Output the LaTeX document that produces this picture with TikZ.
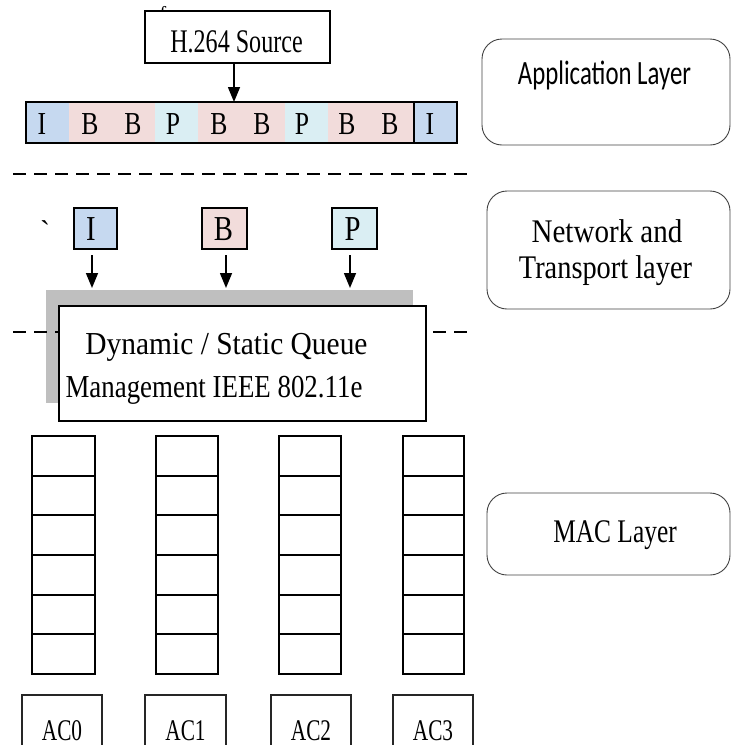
\documentclass[tikz,border=0pt]{standalone}
\usepackage{fontspec}
\usepackage{graphicx}
\setmainfont{Liberation Serif}
\newfontfamily\calibrifont{Carlito}
\usetikzlibrary{arrows.meta}

\definecolor{iblue}{HTML}{C6D9F0}
\definecolor{bpink}{HTML}{F2DCDB}
\definecolor{pcyan}{HTML}{DAEEF3}
\definecolor{shadowgray}{HTML}{BFBFBF}
\definecolor{layeredge}{HTML}{404040}

% narrow text: horizontal squeeze factor, then the text
\newcommand\squeeze[2]{\scalebox{#1}[1]{#2}}
\newcommand\fs[1]{\fontsize{#1}{#1}\selectfont}

\begin{document}
\begin{tikzpicture}[x=1pt,y=-1pt,
  box/.style={draw=black,line width=1.8pt,fill=white,inner sep=0pt,outer sep=0pt},
  seg/.style={inner sep=0pt,outer sep=0pt,minimum height=41pt},
  qcell/.style={draw=black,line width=1.8pt,inner sep=0pt,outer sep=0pt},
  acbox/.style={draw=black!85,line width=1.2pt,inner sep=0pt,outer sep=0pt,minimum height=65pt},
  layer/.style={draw=layeredge,line width=0.9pt,rounded corners=20pt,inner sep=0pt,outer sep=0pt},
  txt/.style={anchor=base,inner sep=0pt,outer sep=0pt},
  arr/.style={line width=1.5pt,-{Triangle[width=12pt,length=15pt]}},
  sepline/.style={line width=1.8pt,dash pattern=on 13pt off 8pt},
]
\useasboundingbox (0,0) rectangle (731,745);
\clip (0,0) rectangle (731,745);

% ---------- application layer ----------
\node[txt] (fmark) at (163,20) {\fs{20}f};
\node[box,line width=1.5pt,minimum width=185pt,minimum height=52pt] (src) at (237.5,37) {};
\node[txt] (srctxt) at (236.5,52) {\fs{33}\squeeze{0.73}{H.264 Source}};

% frame sequence strip
\node[seg,fill=iblue,minimum width=43pt] (s1) at (47.5,122.5) {};
\node[seg,fill=bpink,minimum width=86pt] (s2) at (112,122.5) {};
\node[seg,fill=pcyan,minimum width=43pt] (s3) at (176.5,122.5) {};
\node[seg,fill=bpink,minimum width=87pt] (s4) at (241.5,122.5) {};
\node[seg,fill=pcyan,minimum width=43pt] (s5) at (306.5,122.5) {};
\node[seg,fill=bpink,minimum width=86pt] (s6) at (371,122.5) {};
\node[seg,fill=iblue,minimum width=43pt] (s7) at (435.5,122.5) {};
\node[draw=black,line width=2pt,inner sep=0pt,outer sep=0pt,minimum width=431pt,minimum height=41pt] (strip) at (241.5,122.5) {};
\draw[line width=2pt] (s7.north west) -- (s7.south west);
\foreach \lx/\lt [count=\k] in {42/I,90/B,133/B,173/P,219/B,262/B,302/P,347/B,390/B,430/I}
  \node[txt] (ft\k) at (\lx,134) {\fs{32}\squeeze{0.8}{\lt}};

\draw[arr] ([xshift=-3.5pt]src.south) -- ([xshift=-3.5pt]src.south |- strip.north);

% layer separators
\coordinate (d1a) at (13,174);
\coordinate (d1b) at (473,174);
\draw[sepline] (d1a) -- (d1b);

% ---------- network and transport layer ----------
\node[txt] (tick) at (45,241) {\fs{30}\textasciigrave};
\node[box,fill=iblue,minimum width=43pt,minimum height=41pt] (fI) at (95.5,228.5) {};
\node[box,fill=bpink,minimum width=45pt,minimum height=41pt] (fB) at (224.5,228.5) {};
\node[box,fill=pcyan,minimum width=45pt,minimum height=41pt] (fP) at (354.5,228.5) {};
\node[txt] (tI) at (91,240) {\fs{35}\squeeze{0.82}{I}};
\node[txt] (tB) at (223.5,240) {\fs{35}\squeeze{0.82}{B}};
\node[txt] (tP) at (352.5,240) {\fs{35}\squeeze{0.82}{P}};

% queue management block with its shadow
\node[fill=shadowgray,inner sep=0pt,outer sep=0pt,minimum width=367pt,minimum height=113pt] (shadow) at (229.5,346.5) {};
\foreach \n/\dx in {fI/-3.5,fB/1.5,fP/-4.5}
  \draw[arr,shorten >=2pt] ([xshift=\dx pt,yshift=-6pt]\n.south) -- ([xshift=\dx pt]\n.south |- shadow.north);

\coordinate (d2a) at (13,332);
\coordinate (d2b) at (473,332);
\draw[sepline] (d2a) -- (d2b);

\node[box,minimum width=367pt,minimum height=115pt] (qm) at (242.5,363.5) {};
\node[txt] (qm1) at (226.5,354) {\fs{32}\squeeze{0.92}{Dynamic / Static Queue}};
\node[txt] (qm2) at (214,397) {\fs{32}\squeeze{0.84}{Management IEEE 802.11e}};

% ---------- MAC layer: access category queues ----------
\foreach \c/\xl/\xr in {0/32/95,1/156/218,2/279/341,3/403/464}{
  \foreach \r in {0,...,5}{
    \pgfmathsetmacro\cx{(\xl+\xr)/2}
    \pgfmathsetmacro\cy{436+39.67*\r+19.83}
    \pgfmathsetmacro\cw{\xr-\xl}
    \node[qcell,minimum width=\cw pt,minimum height=39.67pt] (cell\c\r) at (\cx,\cy) {};
  }
}
\foreach \c/\xl/\xr in {0/22/102,1/145/226,2/271/351,3/393/473}{
  \pgfmathsetmacro\cx{(\xl+\xr)/2}
  \pgfmathsetmacro\cw{\xr-\xl}
  \node[acbox,minimum width=\cw pt] (ac\c) at (\cx,727.5) {};
  \node[txt] (actxt\c) at (\cx,740) {\fs{30}\squeeze{0.71}{AC\c}};
}

% ---------- layer labels ----------
\node[layer,minimum width=248pt,minimum height=106pt] (app) at (606,92) {};
\node[txt] (apptxt) at (604.5,84) {\calibrifont\fs{34}\squeeze{0.73}{Application Layer}};
\node[layer,minimum width=243pt,minimum height=118pt] (net) at (608.5,250) {};
\node[txt] (nettxt1) at (607,242) {\fs{33}\squeeze{0.88}{Network and}};
\node[txt] (nettxt2) at (605.5,278) {\fs{33}\squeeze{0.86}{Transport layer}};
\node[layer,minimum width=243pt,minimum height=82pt] (mac) at (608.5,534) {};
\node[txt] (mactxt) at (615,542) {\fs{33}\squeeze{0.77}{MAC Layer}};
\end{tikzpicture}
\end{document}
